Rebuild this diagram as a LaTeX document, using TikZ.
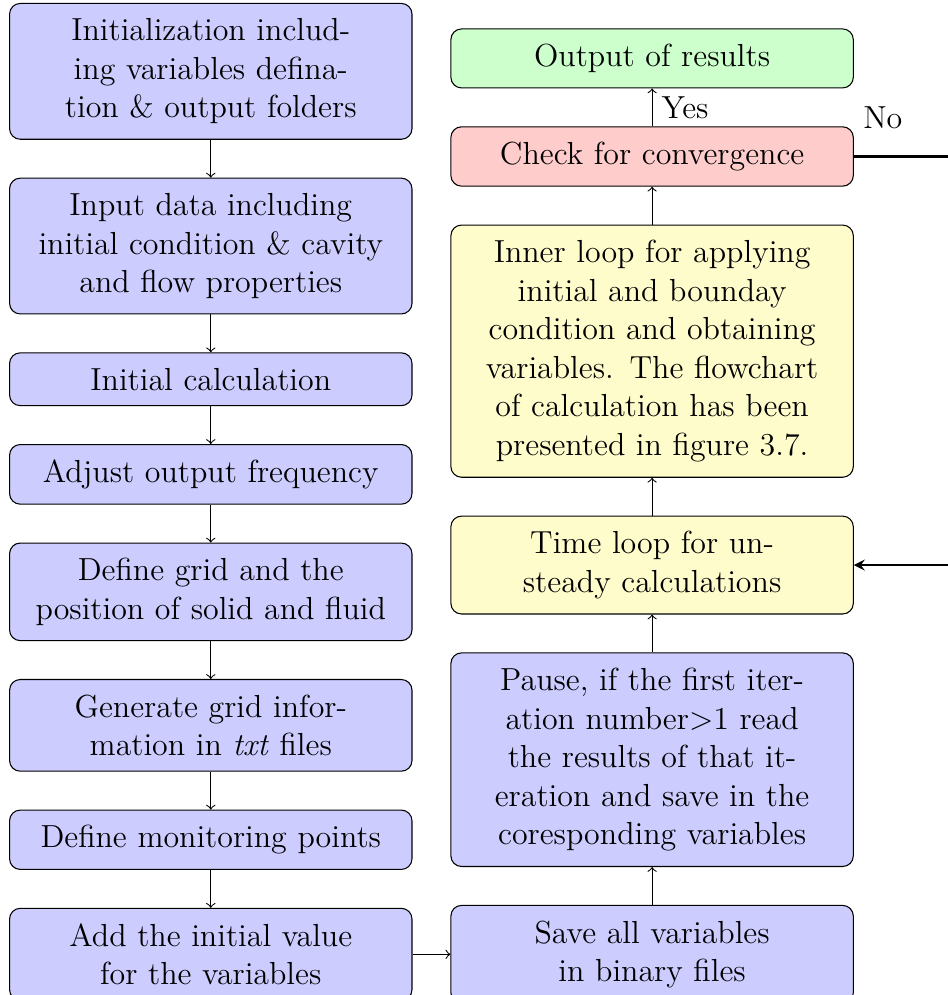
\documentclass[tikz,border=0pt]{standalone}
\usepackage{amsmath,amssymb}
\usepackage{tikz}
\usetikzlibrary{arrows,shapes,positioning}

\begin{document}
\begin{tikzpicture}[node distance=0.5cm,
	block/.style={rectangle, draw, rounded corners, align=center, text width=139.9pt, inner sep=5.7pt, font=\fontsize{12}{14.5}\selectfont},
	lbl/.style={font=\fontsize{12}{14.5}\selectfont},
	arr/.style={->},
	loopline/.style={thick,-stealth}]
			
			\useasboundingbox (0,0) rectangle (356.4pt,-374.1pt);
			\clip (0,0) rectangle (356.4pt,-374.1pt);
			
			% left column
			\node[block, fill=blue!20, anchor=north west] (init) at (3.4pt,-1.1pt) {Initialization includ-\\ing variables defina-\\tion \& output folders};
			\node[block, fill=blue!20, below=of init] (input) {Input data including\\initial condition \& cavity\\and flow properties};
			\node[block, fill=blue!20, below=of input] (initcalc) {Initial calculation};
			\node[block, fill=blue!20, below=of initcalc] (freq) {Adjust output frequency};
			\node[block, fill=blue!20, below=of freq] (grid) {Define grid and the\\position of solid and fluid};
			\node[block, fill=blue!20, below=of grid] (gridinfo) {Generate grid infor-\\mation in \textit{txt} files};
			\node[block, fill=blue!20, below=of gridinfo] (monitor) {Define monitoring points};
			\node[block, fill=blue!20, below=of monitor] (initval) {Add the initial value\\for the variables};
			
			% right column
			\node[block, fill=blue!20, right=of initval] (save) {Save all variables\\in binary files};
			\node[block, fill=blue!20, above=of save] (pause) {Pause, if the first iter-\\ation number$>$1 read\\the results of that it-\\eration and save in the\\coresponding variables};
			\node[block, fill=yellow!20, above=of pause] (timeloop) {Time loop for un-\\steady calculations};
			\node[block, fill=yellow!20, above=of timeloop] (innerloop) {Inner loop for applying\\initial and bounday\\condition and obtaining\\variables. The flowchart\\of calculation has been\\presented in figure 3.7.};
			\node[block, fill=red!20, above=of innerloop] (check) {Check for convergence};
			\node[block, fill=green!20, above=of check] (output) {Output of results};
			
			\draw[arr] (init) -- (input);
			\draw[arr] (input) -- (initcalc);
			\draw[arr] (initcalc) -- (freq);
			\draw[arr] (freq) -- (grid);
			\draw[arr] (grid) -- (gridinfo);
			\draw[arr] (gridinfo) -- (monitor);
			\draw[arr] (monitor) -- (initval);
			\draw[arr] (initval) -- (save);
			\draw[arr] (save) -- (pause);
			\draw[arr] (pause) -- (timeloop);
			\draw[arr] (timeloop) -- (innerloop);
			\draw[arr] (innerloop) -- (check);
			\draw[arr] (check) -- node[lbl, right] {Yes} (output);
			
			\draw[loopline] (check.east) -- ++(1.6cm,0) coordinate (back) |- (timeloop.east);
			\node[lbl, anchor=south west] (no) at ([xshift=0pt,yshift=6.9pt]check.east) {No};
		\end{tikzpicture}
\end{document}
